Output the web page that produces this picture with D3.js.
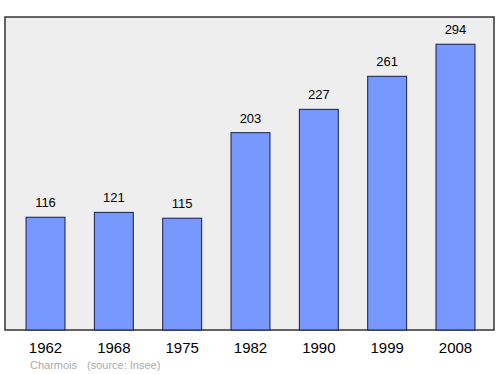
<!DOCTYPE html>
<html>
<head>
<meta charset="utf-8">
<script src="https://cdn.jsdelivr.net/npm/d3@7"></script>
<style>
  body { margin: 0; background: #fff; }
  text { font-family: "Liberation Sans", Arial, sans-serif; }
</style>
</head>
<body>
<div id="chart"></div>
<script>
// Population data
var years = ["1962", "1968", "1975", "1982", "1990", "1999", "2008"];
var population = [116, 121, 115, 203, 227, 261, 294];
var commune = "Charmois";
var source = "(source: Insee)";

var width = 500, height = 374;
var frame = { left: 5, top: 17, right: 494, bottom: 330 };

var svg = d3.select("#chart").append("svg")
  .attr("width", width)
  .attr("height", height);

// Plot background
svg.append("rect")
  .attr("x", frame.left)
  .attr("y", frame.top)
  .attr("width", frame.right - frame.left)
  .attr("height", frame.bottom - frame.top)
  .style("fill", "#eeeeee")
  .style("stroke", "#333")
  .style("stroke-width", 1.5);

// Scales
var x = d3.scaleBand()
  .domain(years)
  .range([11, 490])
  .paddingInner(0.43)
  .paddingOuter(0.22);

var y = d3.scaleLinear()
  .domain([0, 322])
  .range([frame.bottom, frame.top]);

// Bars
svg.selectAll(".bar")
  .data(population)
  .enter()
  .append("rect")
  .attr("class", "bar")
  .attr("x", function(d, i){ return x(years[i]); })
  .attr("y", function(d){ return y(d); })
  .attr("width", x.bandwidth())
  .attr("height", function(d){ return frame.bottom - y(d); })
  .style("fill", "#7799ff")
  .style("stroke", "#1a1a4a")
  .style("stroke-width", 1);

// Value labels
svg.selectAll(".value")
  .data(population)
  .enter()
  .append("text")
  .attr("class", "value")
  .attr("x", function(d, i){ return x(years[i]) + x.bandwidth() / 2; })
  .attr("y", function(d){ return y(d) - 10; })
  .style("text-anchor", "middle")
  .style("font-size", "13px")
  .style("fill", "#000")
  .text(function(d){ return d; });

// X axis labels
var xAxis = d3.axisBottom(x).tickSize(0).tickPadding(12);
var xAxisGroup = svg.append("g")
  .attr("transform", "translate(0," + frame.bottom + ")")
  .call(xAxis);
xAxisGroup.select(".domain").remove();
xAxisGroup.selectAll("text")
  .style("font-family", "Liberation Sans, Arial, sans-serif")
  .style("font-size", "15px")
  .style("fill", "#000");

// Footer
svg.append("text")
  .attr("x", 30)
  .attr("y", 369)
  .style("font-size", "11px")
  .style("fill", "#aaaaaa")
  .text(commune);

svg.append("text")
  .attr("x", 87)
  .attr("y", 369)
  .style("font-size", "11px")
  .style("fill", "#aaaaaa")
  .text(source);
</script>
</body>
</html>
